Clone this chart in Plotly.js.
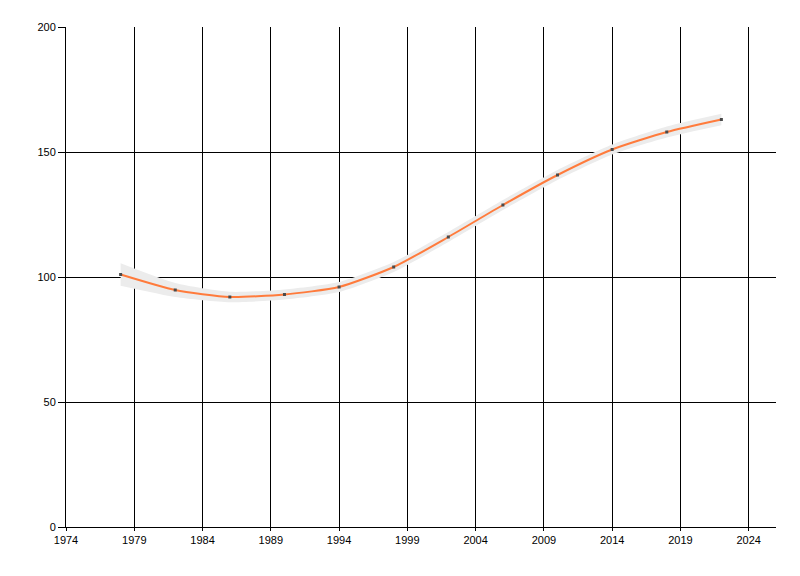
<!DOCTYPE html>
<html>
<head>
<meta charset="utf-8">
<script src="https://cdn.plot.ly/plotly-3.0.1.min.js"></script>
<style>html,body{margin:0;padding:0;background:#fff;}#chart{width:800px;height:576px;}</style>
</head>
<body>
<div id="chart"></div>
<script>
const years = [1978, 1982, 1986, 1990, 1994, 1998, 2002, 2006, 2010, 2014, 2018, 2022];
const values = [101, 94.8, 92, 93, 96, 104, 116, 128.8, 140.8, 151, 158, 163];
const bandUpper = [105.5, 97.6, 94.1, 95, 98, 106, 118, 130.8, 142.8, 153, 160.2, 165.3];
const bandLower = [96.5, 92, 89.9, 91, 94, 102, 114, 126.8, 138.8, 149, 155.8, 160.7];
const xTicks = [1974, 1979, 1984, 1989, 1994, 1999, 2004, 2009, 2014, 2019, 2024];
const yTicks = [0, 50, 100, 150, 200];

const traces = [
  {x: years, y: bandLower, mode: 'lines', line: {width: 0, shape: 'spline', smoothing: 0.6, color: 'rgba(0,0,0,0)'}, hoverinfo: 'skip', showlegend: false},
  {x: years, y: bandUpper, mode: 'lines', fill: 'tonexty', fillcolor: '#ececec', line: {width: 0, shape: 'spline', smoothing: 0.6, color: 'rgba(0,0,0,0)'}, hoverinfo: 'skip', showlegend: false},
  {x: years, y: values, mode: 'lines+markers', line: {color: '#ff7b3c', width: 2, shape: 'spline', smoothing: 0.6}, marker: {color: '#4a4a4a', size: 3, symbol: 'square'}, showlegend: false}
];

const axisFont = {family: 'Liberation Sans, Arial, sans-serif', size: 11, color: '#000'};
const layout = {
  width: 800, height: 576,
  margin: {l: 66, r: 24, t: 27, b: 49, pad: 0},
  paper_bgcolor: '#fff', plot_bgcolor: '#fff',
  showlegend: false,
  xaxis: {
    range: [1974, 2026], tickmode: 'array', tickvals: xTicks, ticktext: xTicks.map(String),
    showgrid: true, gridcolor: '#000', gridwidth: 1, zeroline: false,
    showline: true, linecolor: '#000', linewidth: 1,
    ticks: 'outside', ticklen: 3, tickcolor: '#000', tickfont: axisFont
  },
  yaxis: {
    range: [0, 200], tickmode: 'array', tickvals: yTicks, ticktext: yTicks.map(String),
    showgrid: true, gridcolor: '#000', gridwidth: 1, zeroline: false,
    showline: true, linecolor: '#000', linewidth: 1,
    ticks: 'outside', ticklen: 7, tickcolor: '#000', tickfont: axisFont
  }
};
Plotly.newPlot('chart', traces, layout, {displayModeBar: false, staticPlot: true});
</script>
</body>
</html>
